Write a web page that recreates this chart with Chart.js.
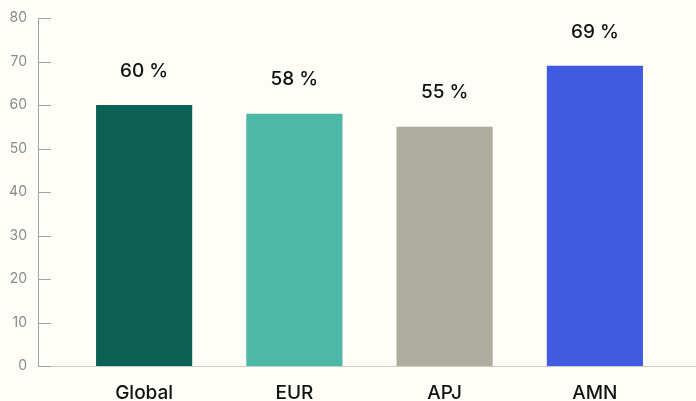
<!DOCTYPE html>
<html>
<head>
<meta charset="utf-8">
<script src="https://cdn.jsdelivr.net/npm/chart.js@4"></script>
<style>
	html, body { margin: 0; padding: 0; background: #fffdf8; }
	#wrapper { width: 696px; height: 401px; }
</style>
</head>
<body>
<div id="wrapper"><canvas id="grafico"></canvas></div>
<script>
"use strict";

const regioni = ["Global", "EUR", "APJ", "AMN"];
const percentuali = [60, 58, 55, 69];
const colori = ["#0b6153", "#4db8a5", "#aeab9f", "#3f5be2"];
const tickY = [0, 10, 20, 30, 40, 50, 60, 70, 80];

const AXIS_X = 38;

// assi disegnati a mano, piu' a sinistra dell'area dati
const pluginAssi = {
	id: "assi",
	afterDraw(chart) {
		const ctx = chart.ctx;
		const y = chart.scales.y;
		const area = chart.chartArea;
		ctx.save();
		ctx.lineWidth = 1;
		ctx.strokeStyle = "#cfccc4";
		ctx.beginPath();
		ctx.moveTo(AXIS_X, area.bottom + 0.5);
		ctx.lineTo(chart.width, area.bottom + 0.5);
		ctx.stroke();
		ctx.strokeStyle = "#a3a3a3";
		ctx.beginPath();
		ctx.moveTo(AXIS_X + 0.5, y.getPixelForValue(tickY[tickY.length - 1]));
		ctx.lineTo(AXIS_X + 0.5, area.bottom);
		ctx.stroke();
		for (const v of tickY) {
			const py = Math.round(y.getPixelForValue(v)) + 0.5;
			ctx.beginPath();
			ctx.moveTo(AXIS_X, py);
			ctx.lineTo(AXIS_X + 13, py);
			ctx.stroke();
		}
		// etichette sopra le barre
		ctx.fillStyle = "#111";
		ctx.font = "500 19px Inter";
		ctx.textAlign = "center";
		ctx.textBaseline = "middle";
		const meta = chart.getDatasetMeta(0);
		meta.data.forEach(function (bar, i) {
			ctx.fillText(percentuali[i] + " %", bar.x, bar.y - 34);
		});
		ctx.restore();
	}
};

const grafico = new Chart(document.getElementById("grafico"), {
	type: "bar",
	data: {
		labels: regioni,
		datasets: [{
			data: percentuali,
			backgroundColor: colori,
			barPercentage: 0.64,
			categoryPercentage: 1
		}]
	},
	options: {
		responsive: true,
		maintainAspectRatio: false,
		animation: false,
		layout: { padding: { top: 18, right: 26, bottom: 0, left: 0 } },
		plugins: {
			legend: { display: false },
			tooltip: { enabled: false }
		},
		scales: {
			x: {
				afterFit(scale) { scale.height = 35; },
				grid: { display: false },
				border: { display: false },
				ticks: {
					color: "#111",
					padding: 8,
					maxRotation: 0,
					font: { family: "Inter", size: 19, weight: 500 }
				}
			},
			y: {
				min: 0,
				max: 80,
				afterFit(scale) {
					scale.width = 69;
					scale.paddingTop = 0;
					scale.paddingBottom = 0;
				},
				grid: { display: false },
				border: { display: false },
				ticks: {
					stepSize: 10,
					padding: 34,
					color: "#8a8a8a",
					font: { family: "Inter", size: 14 }
				}
			}
		}
	},
	plugins: [pluginAssi]
});
</script>
</body>
</html>
